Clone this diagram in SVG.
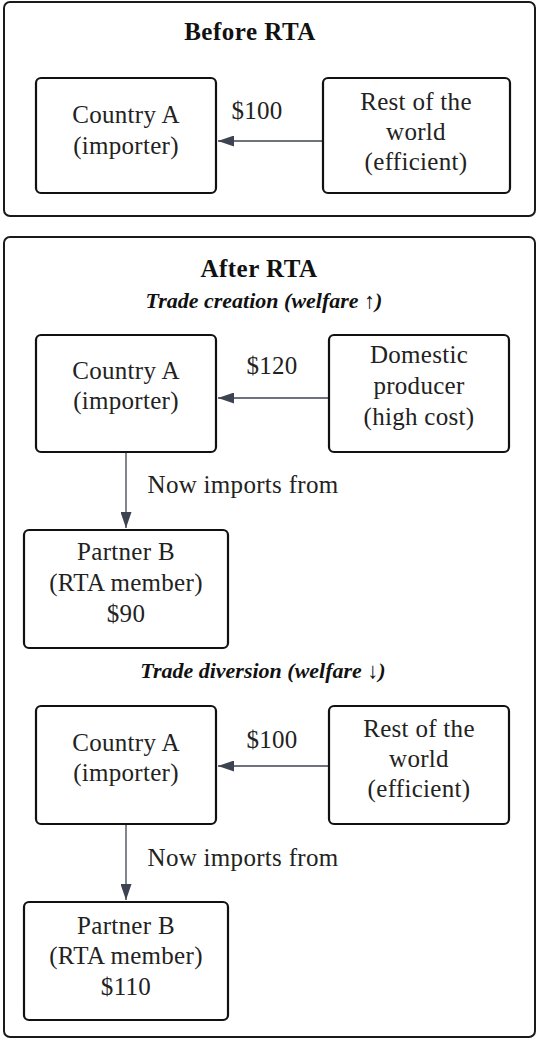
<svg xmlns="http://www.w3.org/2000/svg" width="539" height="1041" viewBox="0 0 539 1041">
<defs>
<style>
.panel{fill:#fff;stroke:#1a1a1a;stroke-width:2}
.box{fill:#fff;stroke:#111;stroke-width:2.2}
.t{font-size:25px;letter-spacing:0.3px;fill:#222;text-anchor:middle}
.h{font-size:25px;letter-spacing:0.5px;font-weight:bold;fill:#111;text-anchor:middle}
.s{font-size:22px;font-weight:bold;font-style:italic;fill:#111;text-anchor:middle}
.c{stroke:#3d4350;stroke-width:1.3;fill:none}
</style>
<marker id="ah" viewBox="0 0 16 11" refX="16" refY="5.5" markerWidth="16" markerHeight="11" markerUnits="userSpaceOnUse" orient="auto">
<path d="M0,0 L16,5.5 L0,11 z" fill="#3d4350"/>
</marker>
</defs>
<rect width="539" height="1041" fill="#fff"/>
<g id="panel-before">
<rect class="panel" x="4" y="2" width="531" height="214" rx="6"/>
<text class="h" x="250" y="40" font-family="Liberation Serif, serif">Before RTA</text>
</g>
<g id="panel-after">
<rect class="panel" x="4" y="237" width="531" height="800" rx="6"/>
<text class="h" x="259" y="277" font-family="Liberation Serif, serif">After RTA</text>
<text class="s" x="264" y="308" font-family="Liberation Serif, serif">Trade creation (welfare ↑)</text>
<text class="s" x="263" y="678" font-family="Liberation Serif, serif">Trade diversion (welfare ↓)</text>
</g>
<g id="connectors">
<line class="c" x1="323" y1="141" x2="218" y2="141" marker-end="url(#ah)"/>
<text class="t" x="257" y="119" font-family="Liberation Serif, serif">$100</text>
<line class="c" x1="329" y1="398" x2="218" y2="398" marker-end="url(#ah)"/>
<text class="t" x="272" y="374" font-family="Liberation Serif, serif">$120</text>
<line class="c" x1="126" y1="452" x2="126" y2="528" marker-end="url(#ah)"/>
<text class="t" x="243" y="493" font-family="Liberation Serif, serif">Now imports from</text>
<line class="c" x1="329" y1="766" x2="218" y2="766" marker-end="url(#ah)"/>
<text class="t" x="272" y="748" font-family="Liberation Serif, serif">$100</text>
<line class="c" x1="126" y1="825" x2="126" y2="900" marker-end="url(#ah)"/>
<text class="t" x="243" y="866" font-family="Liberation Serif, serif">Now imports from</text>
</g>
<g id="before-country-a">
<rect class="box" x="36" y="78" width="180" height="115" rx="5"/>
<text class="t" x="126" y="123" font-family="Liberation Serif, serif">Country A</text>
<text class="t" x="126" y="154" font-family="Liberation Serif, serif">(importer)</text>
</g>
<g id="before-row">
<rect class="box" x="323" y="78" width="187" height="115" rx="5"/>
<text class="t" x="416" y="110" font-family="Liberation Serif, serif">Rest of the</text>
<text class="t" x="416" y="140" font-family="Liberation Serif, serif">world</text>
<text class="t" x="416" y="170" font-family="Liberation Serif, serif">(efficient)</text>
</g>
<g id="creation-country-a">
<rect class="box" x="36" y="335" width="180" height="117" rx="5"/>
<text class="t" x="126" y="379" font-family="Liberation Serif, serif">Country A</text>
<text class="t" x="126" y="409" font-family="Liberation Serif, serif">(importer)</text>
</g>
<g id="creation-domestic">
<rect class="box" x="329" y="335" width="180" height="117" rx="5"/>
<text class="t" x="419" y="363" font-family="Liberation Serif, serif">Domestic</text>
<text class="t" x="419" y="394" font-family="Liberation Serif, serif">producer</text>
<text class="t" x="419" y="425" font-family="Liberation Serif, serif">(high cost)</text>
</g>
<g id="creation-partner-b">
<rect class="box" x="24" y="530" width="204" height="118" rx="5"/>
<text class="t" x="126" y="560" font-family="Liberation Serif, serif">Partner B</text>
<text class="t" x="126" y="591" font-family="Liberation Serif, serif">(RTA member)</text>
<text class="t" x="126" y="622" font-family="Liberation Serif, serif">$90</text>
</g>
<g id="diversion-country-a">
<rect class="box" x="36" y="706" width="180" height="118" rx="5"/>
<text class="t" x="126" y="751" font-family="Liberation Serif, serif">Country A</text>
<text class="t" x="126" y="781" font-family="Liberation Serif, serif">(importer)</text>
</g>
<g id="diversion-row">
<rect class="box" x="329" y="706" width="180" height="118" rx="5"/>
<text class="t" x="419" y="737" font-family="Liberation Serif, serif">Rest of the</text>
<text class="t" x="419" y="767" font-family="Liberation Serif, serif">world</text>
<text class="t" x="419" y="797" font-family="Liberation Serif, serif">(efficient)</text>
</g>
<g id="diversion-partner-b">
<rect class="box" x="24" y="902" width="204" height="118" rx="5"/>
<text class="t" x="126" y="934" font-family="Liberation Serif, serif">Partner B</text>
<text class="t" x="126" y="964" font-family="Liberation Serif, serif">(RTA member)</text>
<text class="t" x="126" y="995" font-family="Liberation Serif, serif">$110</text>
</g>
</svg>
